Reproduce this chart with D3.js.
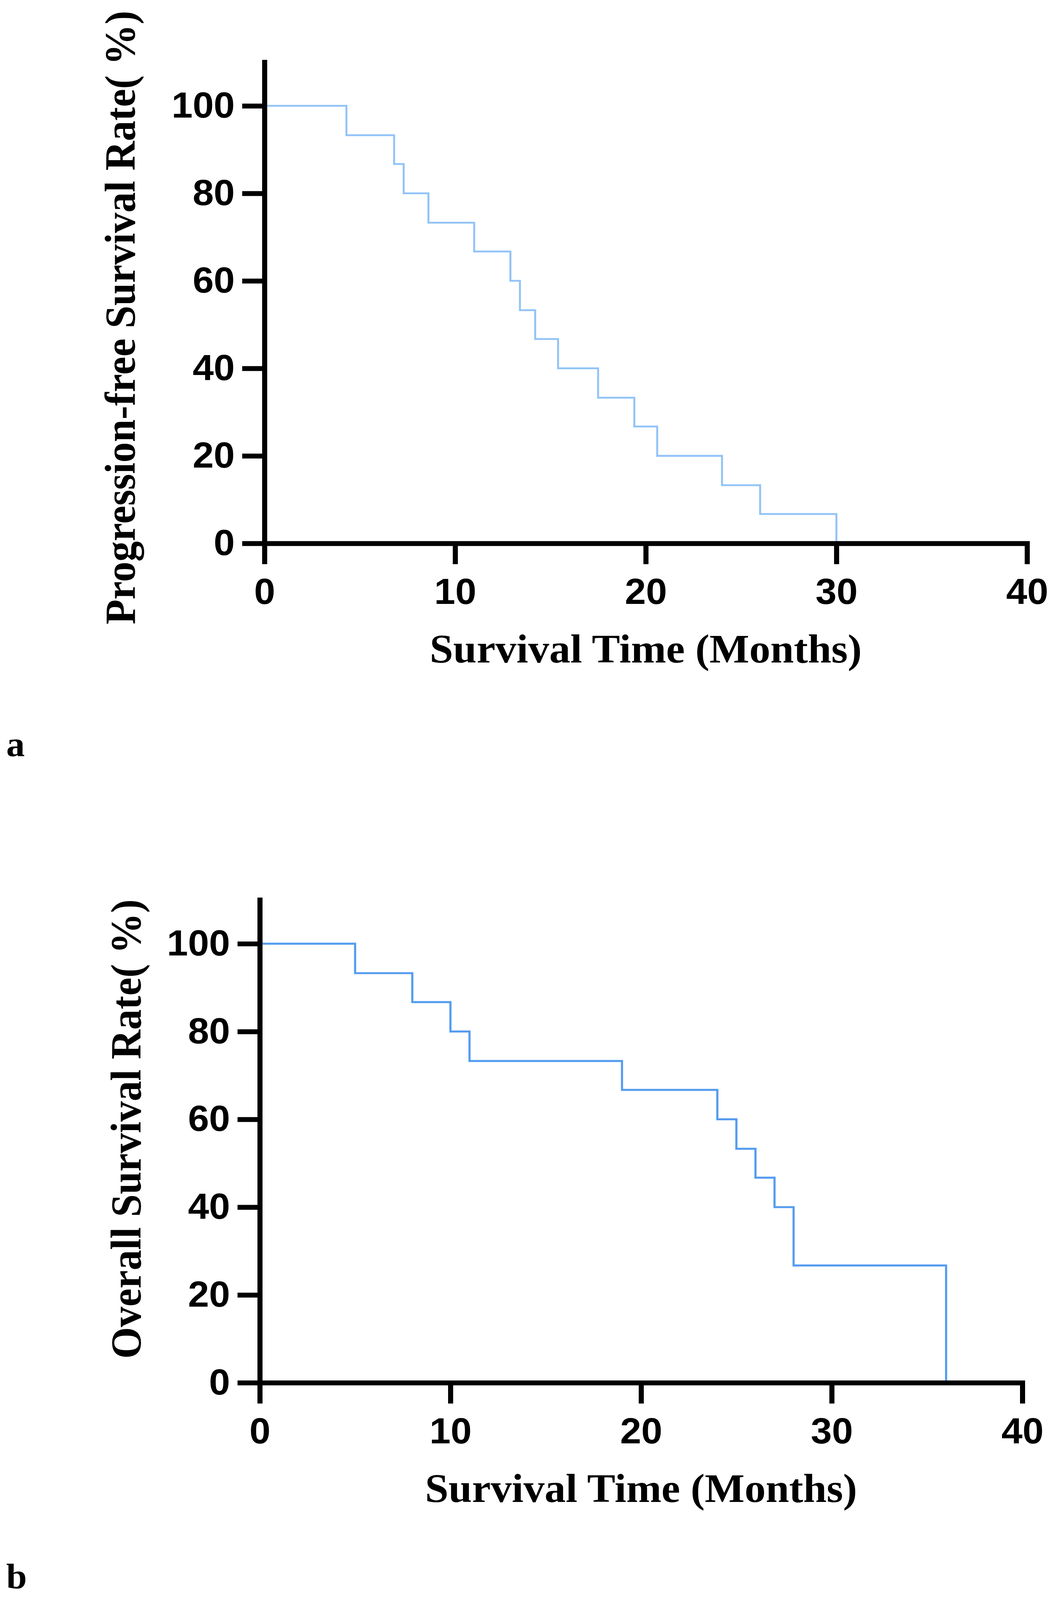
<!DOCTYPE html>
<html>
<head>
<meta charset="utf-8">
<script src="https://cdn.jsdelivr.net/npm/d3@7"></script>
<style>
    html, body { margin: 0; padding: 0; background: #ffffff; overflow: hidden; }
    .tick text { font-family: "Liberation Sans", Arial, sans-serif; font-weight: bold; }
    .title { font-family: "Liberation Serif", "Times New Roman", serif; font-weight: bold; }
</style>
</head>
<body>
<div id="chart"></div>
<script>
// progression-free survival (panel a)
const pfsTimes = [0, 4.3, 6.8, 7.3, 8.6, 11.0, 12.9, 13.4, 14.2, 15.4, 17.5, 19.4, 20.6, 24.0, 26.0, 30.0];
const pfsRates = [100, 93.3, 86.7, 80, 73.3, 66.7, 60, 53.3, 46.7, 40, 33.3, 26.7, 20, 13.3, 6.7, 0];

// overall survival (panel b)
const osTimes = [0, 5, 8, 10, 11, 19, 24, 25, 26, 27, 28, 36];
const osRates = [100, 93.3, 86.7, 80, 73.3, 66.7, 60, 53.3, 46.7, 40, 26.7, 0];

const xTicks = [0, 10, 20, 30, 40];
const yTicks = [0, 20, 40, 60, 80, 100];

const width = 2698;
const height = 4308;

// fit the drawing to whatever the window really shows
const svg = d3.select("#chart")
    .append("svg")
    .attr("width", window.innerWidth || width)
    .attr("height", window.innerHeight || height)
    .attr("viewBox", "0 0 " + width + " " + height)
    .attr("preserveAspectRatio", "none")
    .style("display", "block");

svg.append("rect")
    .attr("width", width)
    .attr("height", height)
    .attr("fill", "#ffffff");

function kmPlot(times, rates, opts) {
    const points = times.map((t, i) => ({ t: t, s: rates[i] }));

    const xScale = d3.scaleLinear()
        .domain([0, 40])
        .range([opts.left, opts.left + 40 * opts.pxPerMonth]);

    const yScale = d3.scaleLinear()
        .domain([0, 110])
        .range([opts.bottom, opts.bottom - 110 * opts.pxPerPct]);

    const g = svg.append("g");

    // survival curve (drawn first so the axis sits on top of the end drop)
    const line = d3.line()
        .x(d => xScale(d.t))
        .y(d => yScale(d.s))
        .curve(d3.curveStepAfter);

    g.append("path")
        .datum(points)
        .attr("fill", "none")
        .attr("stroke", opts.color)
        .attr("stroke-width", opts.lineWidth)
        .attr("d", line);

    // x-axis
    const xAxis = g.append("g")
        .attr("transform", "translate(0," + opts.bottom + ")")
        .call(d3.axisBottom(xScale).tickValues(xTicks).tickSize(56).tickSizeOuter(0).tickPadding(38));

    // y-axis
    const yAxis = g.append("g")
        .attr("transform", "translate(" + opts.left + ",0)")
        .call(d3.axisLeft(yScale).tickValues(yTicks).tickSize(57).tickSizeOuter(0).tickPadding(19));

    [xAxis, yAxis].forEach(ax => {
        ax.select(".domain").attr("stroke", "#000").attr("stroke-width", 13).attr("stroke-linecap", "square");
        ax.selectAll(".tick line").attr("stroke", "#000").attr("stroke-width", 13);
        ax.selectAll(".tick text").attr("fill", "#000").style("font-size", "97px");
    });

    // axis titles
    g.append("text")
        .attr("class", "title")
        .attr("x", (xScale(0) + xScale(40)) / 2)
        .attr("y", opts.bottom + 321)
        .attr("text-anchor", "middle")
        .style("font-size", "108px")
        .text("Survival Time (Months)");

    g.append("text")
        .attr("class", "title")
        .attr("transform", "translate(" + opts.yTitleX + "," + opts.yTitleY + ") rotate(-90)")
        .attr("text-anchor", "middle")
        .style("font-size", "110px")
        .text(opts.yLabel);

    // panel letter
    svg.append("text")
        .attr("class", "title")
        .attr("x", 16)
        .attr("y", opts.letterY)
        .style("font-size", "95px")
        .text(opts.letter);
}

kmPlot(pfsTimes, pfsRates, {
    left: 677, bottom: 1463, pxPerMonth: 48.8, pxPerPct: 11.78,
    color: "#92c3f7", lineWidth: 5,
    yLabel: "Progression-free Survival Rate( %)", yTitleX: 345, yTitleY: 855,
    letter: "a", letterY: 2036
});

kmPlot(osTimes, osRates, {
    left: 665, bottom: 3723, pxPerMonth: 48.8, pxPerPct: 11.82,
    color: "#559cf0", lineWidth: 5.5,
    yLabel: "Overall Survival Rate( %)", yTitleX: 360, yTitleY: 3040,
    letter: "b", letterY: 4276
});
</script>
</body>
</html>
